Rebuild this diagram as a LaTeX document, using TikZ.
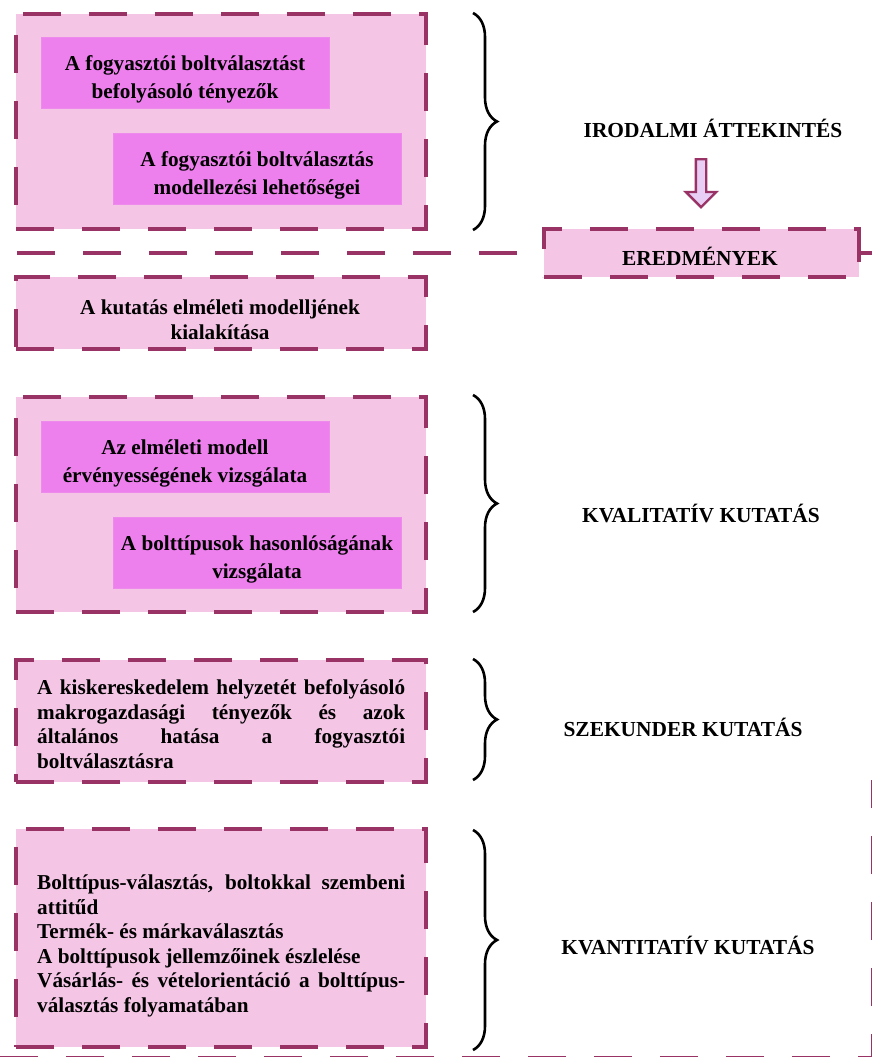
\documentclass[tikz,border=0pt]{standalone}
\usepackage{fontspec}
\setmainfont{Liberation Serif}
\usetikzlibrary{shapes.arrows,decorations.pathreplacing}
\definecolor{frame}{RGB}{153,51,102}
\definecolor{panel}{RGB}{245,197,230}
\definecolor{topic}{RGB}{238,128,238}
\definecolor{arrowfill}{RGB}{232,206,245}
\tikzset{
  panelbox/.style={rectangle, draw=frame, fill=panel, line width=4.5pt,
    dash pattern=on 38pt off 28pt, inner sep=0pt, outer sep=0pt, anchor=north west},
  topicbox/.style={rectangle, fill=topic, draw=topic!85!panel, line width=0.8pt,
    inner sep=0pt, outer sep=0pt, minimum width=288pt, minimum height=71pt, anchor=north west},
  topictext/.style={align=center, inner sep=0pt,
    font=\fontsize{21.2}{28.5}\selectfont\bfseries},
  bodytext/.style={font=\fontsize{21.2}{24.6}\selectfont\bfseries, inner sep=0pt},
  phase/.style={font=\fontsize{21.4}{24}\selectfont\bfseries, inner sep=0pt},
  bracedec/.style={decorate, decoration={brace, amplitude=24pt}, line width=2.6pt},
  rule/.style={draw=frame, line width=4.5pt, dash pattern=on 38pt off 28pt},
  outerrule/.style={draw=frame, line width=3pt, dash pattern=on 38pt off 28pt}
}
\begin{document}
\begin{tikzpicture}[x=1pt,y=-1pt]
\useasboundingbox (0,0) rectangle (872,1057);

% outer frame, partly outside the page
\coordinate (oc1) at (0,1057.5);
\coordinate (oc2) at (872.5,1057.5);
\coordinate (oc3) at (872.5,780);
\draw[outerrule] (oc1) -- (oc2) -- (oc3);

% literature review block
\node[panelbox, minimum width=410pt, minimum height=215pt] (lit) at (16,14) {};
\node[topicbox] (lit1) at (41,37) {};
\node[topictext] (lit1T) at ([yshift=-7pt]lit1.center) {A fogyasztói boltválasztást\\befolyásoló tényezők};
\node[topicbox] (lit2) at (113,133) {};
\node[topictext] (lit2T) at ([yshift=-7pt]lit2.center) {A fogyasztói boltválasztás\\modellezési lehetőségei};

% separator line and results box
\node[panelbox, minimum width=315pt, minimum height=48pt] (res) at (544,229) {};
\coordinate (sepL) at (17,253);
\coordinate (sepR) at (872,253);
\draw[rule] (sepL) -- (res.west);
\draw[rule, dash phase=0pt] (res.east) -- (sepR);
\node[phase] (resT) at (700,256) {EREDMÉNYEK};

% theoretical model box
\node[panelbox, minimum width=410pt, minimum height=72pt] (model) at (16,277) {};
\node[bodytext, align=center] (modelT) at (220,320) {A kutatás elméleti modelljének\\kialakítása};

% qualitative block
\node[panelbox, minimum width=410pt, minimum height=215pt] (qual) at (16,397) {};
\node[topicbox] (qual1) at (41,421) {};
\node[topictext] (qual1T) at ([yshift=-7pt]qual1.center) {Az elméleti modell\\érvényességének vizsgálata};
\node[topicbox] (qual2) at (113,517) {};
\node[topictext] (qual2T) at ([yshift=-7pt]qual2.center) {A bolttípusok hasonlóságának\\vizsgálata};

% secondary research block
\node[panelbox, minimum width=410pt, minimum height=122pt] (sec) at (16,660) {};
\node[bodytext, text width=368pt, align=justify, anchor=west] (secT) at (37,724)
  {A kiskereskedelem helyzetét befolyásoló\linebreak makrogazdasági tényezők és azok\linebreak általános hatása a fogyasztói\linebreak boltválasztásra};

% quantitative block
\node[panelbox, minimum width=410pt, minimum height=218pt] (quan) at (16,829) {};
\node[bodytext, text width=368pt, align=justify, anchor=west] (quanT) at (37,946)
  {Bolttípus-választás, boltokkal szembeni\linebreak attitűd\newline
   Termék- és márkaválasztás\newline
   A bolttípusok jellemzőinek észlelése\newline
   Vásárlás- és vételorientáció a bolttípus-\linebreak választás folyamatában};

% braces
\coordinate (br1a) at (473,13);  \coordinate (br1b) at (473,230);
\coordinate (br2a) at (473,395); \coordinate (br2b) at (473,612);
\coordinate (br3a) at (473,659); \coordinate (br3b) at (473,780);
\coordinate (br4a) at (473,830); \coordinate (br4b) at (473,1050);
\draw[bracedec] (br1a) -- (br1b);
\draw[bracedec] (br2a) -- (br2b);
\draw[bracedec] (br3a) -- (br3b);
\draw[bracedec] (br4a) -- (br4b);

% phase labels
\node[phase] (litL) at (713,128) {IRODALMI ÁTTEKINTÉS};
\node[phase] (qualL) at (701,513) {KVALITATÍV KUTATÁS};
\node[phase] (secL) at (683,727) {SZEKUNDER KUTATÁS};
\node[phase] (quanL) at (688,945) {KVANTITATÍV KUTATÁS};

% block arrow towards the results
\node[single arrow, shape border rotate=270, draw=frame, fill=arrowfill,
  line width=2.4pt, inner sep=4pt, single arrow head extend=10pt,
  minimum height=48pt, anchor=north] (arr) at (701,158) {};
\end{tikzpicture}
\end{document}
